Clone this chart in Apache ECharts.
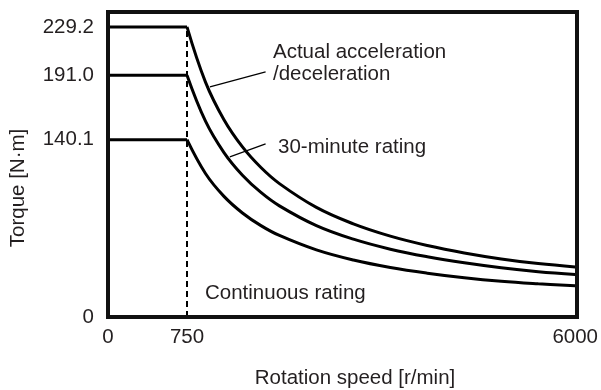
<!DOCTYPE html>
<html>
<head>
<meta charset="utf-8">
<script src="https://cdn.jsdelivr.net/npm/echarts@6/dist/echarts.min.js"></script>
<style>
  html, body { margin: 0; padding: 0; background: #fff; }
  #chart { width: 601px; height: 390px; }
</style>
</head>
<body>
<div id="chart"></div>
<script>
// speeds [r/min]
const speedFlat = [0, 750];
const speedCurve = [750, 1000, 1250, 1500, 1750, 2000, 2500, 3000, 3500, 4000, 4500, 5000, 5500, 6000];

// torque [N·m]
const torqueAccel = [229.2, 185.6, 155.9, 134.4, 118.1, 105.4, 86.6, 73.6, 63.9, 56.5, 50.6, 45.9, 42.2, 39.6];
const torque30min = [191.0, 154.7, 129.9, 112.0, 98.4, 87.8, 72.2, 61.5, 53.6, 47.6, 42.8, 38.9, 35.8, 33.6];
const torqueCont = [140.1, 113.4, 95.3, 82.2, 72.2, 64.4, 53.0, 45.0, 39.1, 34.6, 31.0, 28.2, 26.2, 24.6];

// ticks
const yTicks = [0, 140.1, 191.0, 229.2];
const xTicksLow = [0, 750];
const xTicksHigh = [6000];

// leader lines for the labels (data units, right part)
const leaderAccel = [[1060, 181.8], [1813, 193.7]];
const leader30min = [[1329, 126.5], [1813, 136.8]];

const TXT = "#231f20";
const FONT = "Liberation Sans, Arial, sans-serif";
const FS = 20.5;
const Y_MAX = 241;

const chart = echarts.init(document.getElementById("chart"));

const lineStyle = { color: "#000", width: 3 };
const flat = (t) => speedFlat.map((s) => [s, t]);
const curve = (arr) => speedCurve.map((s, i) => [s, arr[i]]);
const labelStyle = { fontSize: FS, color: TXT, fontFamily: FONT };

chart.setOption({
  animation: false,
  grid: [
    { left: 108, top: 12, width: 79, height: 305, show: false },
    { left: 187, top: 12, width: 390, height: 305, show: false },
    { left: 108, top: 12, width: 469, height: 305, show: true, borderColor: "#111", borderWidth: 4, z: 5 }
  ],
  xAxis: [
    {
      gridIndex: 0, type: "value", min: 0, max: 750,
      axisLine: { show: false }, axisTick: { show: false }, splitLine: { show: false },
      axisLabel: { ...labelStyle, customValues: xTicksLow, margin: 10, formatter: (v) => String(v) }
    },
    {
      gridIndex: 1, type: "value", min: 750, max: 6000,
      axisLine: { show: false }, axisTick: { show: false }, splitLine: { show: false },
      axisLabel: { ...labelStyle, customValues: xTicksHigh, margin: 10, formatter: (v) => String(v) }
    },
    { gridIndex: 2, type: "value", min: 0, max: 1, show: false }
  ],
  yAxis: [
    {
      gridIndex: 0, type: "value", min: 0, max: Y_MAX,
      axisLine: { show: false }, axisTick: { show: false }, splitLine: { show: false },
      axisLabel: {
        ...labelStyle, customValues: yTicks, margin: 14,
        formatter: (v) => (v === 0 ? "0" : v.toFixed(1))
      }
    },
    { gridIndex: 1, type: "value", min: 0, max: Y_MAX, show: false },
    { gridIndex: 2, type: "value", min: 0, max: 1, show: false }
  ],
  graphic: [
    {
      type: "text", x: 273, y: 41,
      style: { text: "Actual acceleration\n/deceleration", fill: TXT, font: FS + "px " + FONT, lineHeight: 22, verticalAlign: "top" }
    },
    {
      type: "text", x: 278, y: 147,
      style: { text: "30-minute rating", fill: TXT, font: FS + "px " + FONT, verticalAlign: "middle" }
    },
    {
      type: "text", x: 205, y: 293,
      style: { text: "Continuous rating", fill: TXT, font: FS + "px " + FONT, verticalAlign: "middle" }
    },
    {
      type: "text", x: 355, y: 378,
      style: { text: "Rotation speed [r/min]", fill: TXT, font: FS + "px " + FONT, align: "center", verticalAlign: "middle" }
    },
    {
      type: "text", x: 18, y: 188, rotation: Math.PI / 2,
      style: { text: "Torque [N·m]", fill: TXT, font: FS + "px " + FONT, align: "center", verticalAlign: "middle" }
    }
  ],
  series: [
    { type: "line", xAxisIndex: 0, yAxisIndex: 0, data: flat(torqueAccel[0]), symbol: "none", lineStyle },
    { type: "line", xAxisIndex: 0, yAxisIndex: 0, data: flat(torque30min[0]), symbol: "none", lineStyle },
    { type: "line", xAxisIndex: 0, yAxisIndex: 0, data: flat(torqueCont[0]), symbol: "none", lineStyle },
    {
      type: "line", xAxisIndex: 0, yAxisIndex: 0, data: [[750, 0], [750, torqueAccel[0]]], symbol: "none",
      clip: false, lineStyle: { color: "#000", width: 2, type: [6, 4] }
    },
    { type: "line", xAxisIndex: 1, yAxisIndex: 1, data: curve(torqueAccel), symbol: "none", smooth: 0.4, lineStyle },
    { type: "line", xAxisIndex: 1, yAxisIndex: 1, data: curve(torque30min), symbol: "none", smooth: 0.4, lineStyle },
    { type: "line", xAxisIndex: 1, yAxisIndex: 1, data: curve(torqueCont), symbol: "none", smooth: 0.4, lineStyle },
    { type: "line", xAxisIndex: 1, yAxisIndex: 1, data: leaderAccel, symbol: "none", lineStyle: { color: "#000", width: 1.2 } },
    { type: "line", xAxisIndex: 1, yAxisIndex: 1, data: leader30min, symbol: "none", lineStyle: { color: "#000", width: 1.2 } }
  ]
});
</script>
</body>
</html>
